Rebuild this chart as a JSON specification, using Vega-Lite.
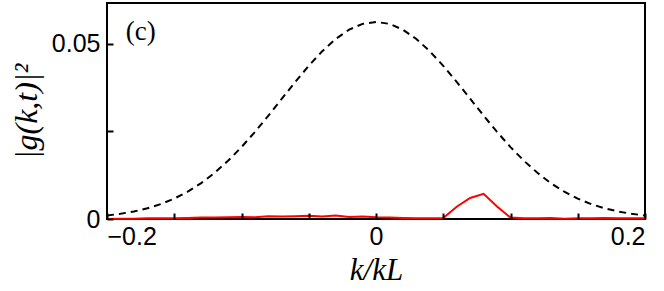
{
  "$schema": "https://vega.github.io/schema/vega-lite/v6.json",
  "width": 538,
  "height": 216,
  "autosize": "none",
  "padding": {"left": 107, "top": 3, "right": 19, "bottom": 72},
  "background": "white",
  "config": {
    "view": {"stroke": "black", "strokeWidth": 2}
  },
  "datasets": {
    "gauss": [
      {"k": -0.20, "v": 0.00100}, {"k": -0.19, "v": 0.00148}, {"k": -0.18, "v": 0.00215}, {"k": -0.17, "v": 0.00306},
      {"k": -0.16, "v": 0.00426}, {"k": -0.15, "v": 0.00583}, {"k": -0.14, "v": 0.00781}, {"k": -0.13, "v": 0.01025},
      {"k": -0.12, "v": 0.01319}, {"k": -0.11, "v": 0.01663}, {"k": -0.10, "v": 0.02054}, {"k": -0.09, "v": 0.02488},
      {"k": -0.08, "v": 0.02953}, {"k": -0.07, "v": 0.03435}, {"k": -0.06, "v": 0.03916}, {"k": -0.05, "v": 0.04376},
      {"k": -0.04, "v": 0.04791}, {"k": -0.03, "v": 0.05142}, {"k": -0.02, "v": 0.05408}, {"k": -0.01, "v": 0.05574},
      {"k": 0.00, "v": 0.05630},
      {"k": 0.01, "v": 0.05574}, {"k": 0.02, "v": 0.05408}, {"k": 0.03, "v": 0.05142}, {"k": 0.04, "v": 0.04791},
      {"k": 0.05, "v": 0.04376}, {"k": 0.06, "v": 0.03916}, {"k": 0.07, "v": 0.03435}, {"k": 0.08, "v": 0.02953},
      {"k": 0.09, "v": 0.02488}, {"k": 0.10, "v": 0.02054}, {"k": 0.11, "v": 0.01663}, {"k": 0.12, "v": 0.01319},
      {"k": 0.13, "v": 0.01025}, {"k": 0.14, "v": 0.00781}, {"k": 0.15, "v": 0.00583}, {"k": 0.16, "v": 0.00426},
      {"k": 0.17, "v": 0.00306}, {"k": 0.18, "v": 0.00215}, {"k": 0.19, "v": 0.00148}, {"k": 0.20, "v": 0.00100}
    ],
    "red": [
      {"k": -0.20, "v": 0.0000}, {"k": -0.19, "v": 0.0001}, {"k": -0.18, "v": 0.0001}, {"k": -0.17, "v": 0.0002},
      {"k": -0.16, "v": 0.0002}, {"k": -0.15, "v": 0.0002}, {"k": -0.14, "v": 0.0003}, {"k": -0.13, "v": 0.0004},
      {"k": -0.12, "v": 0.0004}, {"k": -0.11, "v": 0.0005}, {"k": -0.10, "v": 0.0006}, {"k": -0.09, "v": 0.0005},
      {"k": -0.08, "v": 0.0008}, {"k": -0.07, "v": 0.0007}, {"k": -0.06, "v": 0.0008}, {"k": -0.05, "v": 0.0009},
      {"k": -0.04, "v": 0.0007}, {"k": -0.03, "v": 0.0010}, {"k": -0.02, "v": 0.0006}, {"k": -0.01, "v": 0.0007},
      {"k": 0.00, "v": 0.0005}, {"k": 0.01, "v": 0.0004}, {"k": 0.02, "v": 0.0003}, {"k": 0.03, "v": 0.0002},
      {"k": 0.04, "v": 0.0002}, {"k": 0.05, "v": 0.0003}, {"k": 0.06, "v": 0.0035}, {"k": 0.07, "v": 0.0060},
      {"k": 0.08, "v": 0.0072}, {"k": 0.09, "v": 0.0036}, {"k": 0.10, "v": 0.0004}, {"k": 0.11, "v": 0.0002},
      {"k": 0.12, "v": 0.0002}, {"k": 0.13, "v": 0.0003}, {"k": 0.14, "v": 0.0001}, {"k": 0.15, "v": 0.0002},
      {"k": 0.16, "v": 0.0002}, {"k": 0.17, "v": 0.0003}, {"k": 0.18, "v": 0.0002}, {"k": 0.19, "v": 0.0002},
      {"k": 0.20, "v": 0.0002}
    ],
    "label": [{"k": -0.186, "v": 0.0535, "t": "(c)"}]
  },
  "layer": [
    {
      "data": {"name": "gauss"},
      "mark": {"type": "line", "color": "black", "strokeWidth": 2, "strokeDash": [7, 5]},
      "encoding": {
        "x": {"field": "k", "type": "quantitative", "scale": {"domain": [-0.2, 0.2], "nice": false, "zero": false},
          "axis": {"orient": "bottom", "values": [-0.2, -0.15, -0.1, -0.05, 0, 0.05, 0.1, 0.15, 0.2],
            "ticks": true, "offset": -6, "tickSize": 6, "tickColor": "black", "tickWidth": 2, "domain": false, "grid": false, "zindex": 2,
            "labelExpr": "datum.value == 0 ? '0' : (abs(datum.value) > 0.19 ? (datum.value < 0 ? '−0.2' : '0.2') : '')",
            "labelFont": "Liberation Sans", "labelFontSize": 25, "labelColor": "black", "labelPadding": 5,
            "title": "k/kL", "titleFont": "Liberation Serif", "titleFontStyle": "italic", "titleFontWeight": "normal", "titleFontSize": 31, "titleColor": "black", "titlePadding": 6}},
        "y": {"field": "v", "type": "quantitative", "scale": {"domain": [0, 0.0617], "nice": false},
          "axis": {"orient": "left", "values": [0, 0.025, 0.05],
            "ticks": true, "offset": -6, "tickSize": 6, "tickColor": "black", "tickWidth": 2, "domain": false, "grid": false, "zindex": 2,
            "labelExpr": "datum.value == 0 ? '0' : (datum.value == 0.05 ? '0.05' : '')",
            "labelFont": "Liberation Sans", "labelFontSize": 25, "labelColor": "black", "labelPadding": 7,
            "title": "|g(k,t)|²", "titleFont": "Liberation Serif", "titleFontStyle": "italic", "titleFontWeight": "normal", "titleFontSize": 32, "titleColor": "black", "titlePadding": 8}}
      }
    },
    {
      "data": {"name": "red"},
      "mark": {"type": "line", "color": "#ff0000", "strokeWidth": 2},
      "encoding": {
        "x": {"field": "k", "type": "quantitative"},
        "y": {"field": "v", "type": "quantitative"}
      }
    },
    {
      "data": {"name": "label"},
      "mark": {"type": "text", "font": "Liberation Serif", "fontSize": 27, "align": "left", "baseline": "middle", "color": "black"},
      "encoding": {
        "x": {"field": "k", "type": "quantitative"},
        "y": {"field": "v", "type": "quantitative"},
        "text": {"field": "t"}
      }
    }
  ]
}
